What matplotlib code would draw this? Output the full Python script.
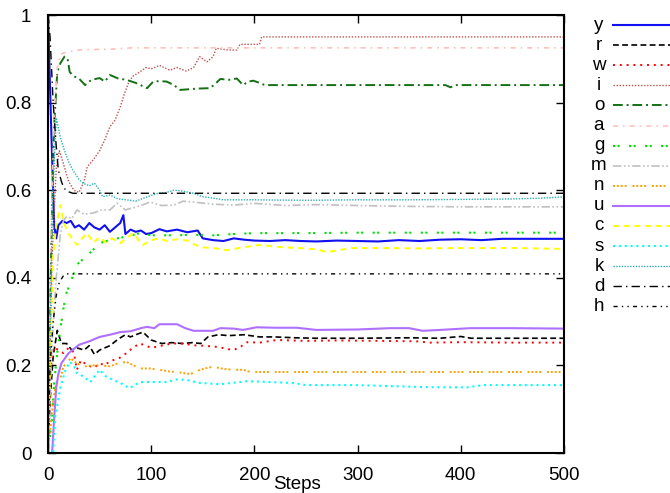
import matplotlib
matplotlib.use("Agg")
import matplotlib.pyplot as plt
from matplotlib.lines import Line2D

plt.rcParams['font.family'] = ['Liberation Sans', 'DejaVu Sans']

# series (step, value)
y_steps = [0, 3, 6, 8, 10, 14, 18, 22, 26, 30, 35, 40, 45, 50, 55, 60, 65, 70, 73, 75, 80, 85, 90, 95, 100,
           108, 115, 125, 135, 145, 150, 160, 170, 180, 190, 200, 215, 230, 245, 260, 280, 300, 320, 340,
           360, 380, 400, 420, 440, 460, 480, 500]
y_vals = [1.0, 0.75, 0.52, 0.49, 0.52, 0.53, 0.525, 0.53, 0.515, 0.52, 0.51, 0.525, 0.515, 0.51, 0.52, 0.505,
          0.515, 0.525, 0.543, 0.5, 0.51, 0.505, 0.508, 0.5, 0.502, 0.511, 0.506, 0.51, 0.504, 0.508, 0.49,
          0.486, 0.484, 0.49, 0.487, 0.485, 0.484, 0.486, 0.484, 0.483, 0.485, 0.484, 0.483, 0.486, 0.484,
          0.487, 0.488, 0.486, 0.489, 0.489, 0.489, 0.489]

r_steps = [0, 2, 5, 9, 13, 18, 23, 28, 35, 40, 45, 50, 55, 60, 68, 75, 80, 85, 92, 100, 110, 120, 130, 140,
           148, 155, 165, 175, 190, 205, 220, 240, 260, 300, 350, 380, 400, 410, 420, 450, 500]
r_vals = [0.0, 0.12, 0.22, 0.28, 0.25, 0.25, 0.235, 0.24, 0.235, 0.245, 0.225, 0.235, 0.24, 0.245, 0.26, 0.27,
          0.265, 0.27, 0.276, 0.258, 0.25, 0.252, 0.25, 0.252, 0.25, 0.265, 0.27, 0.268, 0.27, 0.265, 0.265,
          0.263, 0.262, 0.262, 0.263, 0.262, 0.266, 0.262, 0.262, 0.262, 0.262]

w_steps = [0, 3, 6, 10, 15, 20, 25, 28, 32, 38, 45, 50, 55, 60, 68, 76, 82, 89, 95, 100, 110, 120, 131, 140,
           150, 165, 179, 185, 193, 205, 222, 250, 280, 320, 357, 370, 400, 450, 500]
w_vals = [0.0, 0.2, 0.242, 0.235, 0.228, 0.24, 0.23, 0.19, 0.212, 0.2, 0.195, 0.205, 0.2, 0.21, 0.215, 0.228,
          0.24, 0.25, 0.245, 0.24, 0.245, 0.25, 0.25, 0.246, 0.245, 0.242, 0.235, 0.24, 0.253, 0.252, 0.258,
          0.256, 0.257, 0.256, 0.255, 0.252, 0.253, 0.252, 0.252]

i_steps = [0, 4, 8, 11, 15, 20, 25, 30, 35, 38, 44, 50, 55, 60, 65, 70, 74, 78, 82, 89, 95, 100, 108, 118,
           125, 134, 141, 147, 154, 160, 163, 175, 183, 186, 195, 205, 207, 500]
i_vals = [0.0, 0.45, 0.65, 0.69, 0.66, 0.62, 0.6, 0.595, 0.62, 0.653, 0.67, 0.69, 0.715, 0.745, 0.76, 0.79,
          0.82, 0.845, 0.86, 0.87, 0.88, 0.877, 0.885, 0.874, 0.88, 0.872, 0.88, 0.905, 0.893, 0.905, 0.924,
          0.92, 0.92, 0.933, 0.933, 0.933, 0.95, 0.95]

o_steps = [0, 3, 6, 9, 12, 16, 19, 21, 25, 30, 36, 42, 50, 55, 60, 68, 76, 85, 96, 102, 108, 115, 122, 128,
           134, 145, 157, 163, 167, 175, 183, 189, 194, 199, 205, 210, 385, 390, 395, 500]
o_vals = [0.0, 0.45, 0.75, 0.87, 0.89, 0.905, 0.9, 0.87, 0.86, 0.855, 0.84, 0.852, 0.856, 0.848, 0.863,
          0.855, 0.852, 0.845, 0.833, 0.848, 0.849, 0.848, 0.84, 0.829, 0.83, 0.832, 0.833, 0.845, 0.854,
          0.852, 0.855, 0.84, 0.848, 0.85, 0.845, 0.84, 0.84, 0.835, 0.84, 0.84]

a_steps = [0, 3, 6, 9, 12, 15, 18, 28, 40, 60, 81, 100, 150, 200, 300, 400, 500]
a_vals = [0.0, 0.5, 0.78, 0.88, 0.91, 0.913, 0.915, 0.92, 0.921, 0.922, 0.925, 0.925, 0.925, 0.925, 0.925,
          0.925, 0.925]

g_steps = [0, 4, 6, 9, 13, 17, 22, 28, 35, 42, 50, 58, 67, 78, 89, 100, 120, 140, 160, 180, 200, 250, 300,
           400, 500]
g_vals = [0.0, 0.08, 0.16, 0.23, 0.30, 0.36, 0.39, 0.43, 0.445, 0.46, 0.479, 0.485, 0.49, 0.495, 0.502,
          0.497, 0.497, 0.498, 0.497, 0.5, 0.502, 0.502, 0.503, 0.503, 0.503]

m_steps = [0, 4, 8, 12, 15, 18, 23, 28, 35, 44, 52, 60, 67, 75, 83, 90, 99, 110, 122, 131, 141, 160, 180,
           200, 230, 260, 300, 350, 400, 450, 500]
m_vals = [0.0, 0.25, 0.4, 0.5, 0.53, 0.54, 0.535, 0.555, 0.545, 0.548, 0.555, 0.555, 0.57, 0.555, 0.56,
          0.565, 0.573, 0.565, 0.566, 0.575, 0.573, 0.568, 0.566, 0.57, 0.565, 0.567, 0.565, 0.563, 0.562,
          0.562, 0.562]

n_steps = [0, 5, 8, 12, 15, 22, 28, 34, 42, 50, 60, 68, 76, 89, 99, 108, 118, 125, 138, 145, 152, 160, 170,
           180, 189, 196, 250, 300, 400, 500]
n_vals = [0.0, 0.12, 0.16, 0.17, 0.197, 0.216, 0.205, 0.197, 0.2, 0.2, 0.198, 0.205, 0.208, 0.193, 0.193,
          0.19, 0.186, 0.185, 0.18, 0.188, 0.193, 0.197, 0.192, 0.19, 0.19, 0.185, 0.185, 0.185, 0.185, 0.185]

u_steps = [0, 4, 6, 8, 10, 13, 20, 30, 40, 50, 60, 70, 80, 90, 96, 103, 108, 115, 125, 133, 141, 150, 160,
           167, 180, 189, 202, 220, 241, 260, 300, 331, 350, 363, 380, 409, 450, 500]
u_vals = [0.0, 0.0, 0.08, 0.15, 0.18, 0.205, 0.228, 0.247, 0.255, 0.265, 0.27, 0.276, 0.278, 0.285, 0.288,
          0.285, 0.294, 0.294, 0.294, 0.285, 0.279, 0.279, 0.279, 0.285, 0.284, 0.281, 0.287, 0.286, 0.286,
          0.281, 0.282, 0.285, 0.285, 0.279, 0.281, 0.285, 0.285, 0.284]

c_steps = [0, 2, 5, 8, 12, 15, 18, 23, 28, 33, 38, 44, 50, 56, 62, 70, 76, 83, 88, 92, 100, 108, 115, 125,
           135, 147, 160, 173, 190, 205, 225, 244, 260, 270, 280, 293, 320, 360, 400, 450, 500]
c_vals = [0.0, 0.2, 0.45, 0.52, 0.566, 0.53, 0.509, 0.49, 0.475, 0.49, 0.502, 0.48, 0.493, 0.48, 0.49,
          0.479, 0.49, 0.502, 0.485, 0.475, 0.486, 0.49, 0.484, 0.488, 0.485, 0.47, 0.468, 0.463, 0.47,
          0.475, 0.47, 0.468, 0.465, 0.459, 0.462, 0.468, 0.468, 0.467, 0.468, 0.468, 0.466]

s_steps = [0, 5, 7, 12, 17, 21, 25, 28, 34, 41, 50, 56, 63, 70, 79, 89, 100, 115, 125, 134, 147, 167, 193,
           215, 237, 250, 300, 357, 380, 406, 422, 450, 500]
s_vals = [0.0, 0.0, 0.082, 0.15, 0.19, 0.208, 0.2, 0.183, 0.175, 0.162, 0.19, 0.175, 0.167, 0.16, 0.148,
          0.162, 0.162, 0.162, 0.168, 0.167, 0.16, 0.157, 0.164, 0.162, 0.16, 0.155, 0.155, 0.151, 0.15,
          0.15, 0.155, 0.155, 0.155]

k_steps = [0, 4, 8, 12, 16, 20, 24, 30, 34, 40, 45, 50, 53, 60, 68, 76, 85, 96, 105, 115, 122, 130, 141,
           150, 160, 170, 200, 250, 300, 350, 400, 450, 480, 500]
k_vals = [0.0, 0.55, 0.765, 0.72, 0.69, 0.665, 0.646, 0.625, 0.616, 0.61, 0.616, 0.6, 0.585, 0.589, 0.58,
          0.578, 0.575, 0.585, 0.592, 0.595, 0.6, 0.598, 0.593, 0.585, 0.582, 0.578, 0.578, 0.577, 0.578,
          0.578, 0.579, 0.58, 0.582, 0.585]

d_steps = [0, 2, 5, 8, 10, 13, 15, 18, 24, 30, 500]
d_vals = [1.0, 0.95, 0.8, 0.7, 0.646, 0.62, 0.607, 0.598, 0.593, 0.593, 0.593]

h_steps = [0, 2, 5, 8, 11, 15, 18, 500]
h_vals = [0.0, 0.2, 0.3, 0.36, 0.39, 0.405, 0.409, 0.409]

labels = ['y', 'r', 'w', 'i', 'o', 'a', 'g', 'm', 'n', 'u', 'c', 's', 'k', 'd', 'h']
series = [(y_steps, y_vals), (r_steps, r_vals), (w_steps, w_vals), (i_steps, i_vals), (o_steps, o_vals),
          (a_steps, a_vals), (g_steps, g_vals), (m_steps, m_vals), (n_steps, n_vals), (u_steps, u_vals),
          (c_steps, c_vals), (s_steps, s_vals), (k_steps, k_vals), (d_steps, d_vals), (h_steps, h_vals)]

styles = [
    dict(color='#1010f0', lw=1.5, ls='-'),
    dict(color='black', lw=1.2, ls=(0, (3.5, 2))),
    dict(color='#ff0000', lw=1.4, ls=(0, (1, 2.5))),
    dict(color='#c05050', lw=1.0, ls=(0, (1, 1.2))),
    dict(color='#137013', lw=1.4, ls=(0, (5, 2, 1, 2))),
    dict(color='#ffc0c0', lw=1.2, ls=(0, (3, 3, 1, 3))),
    dict(color='#00e000', lw=1.5, ls=(0, (1, 1.2, 1, 4.5))),
    dict(color='#c0c0c0', lw=1.2, ls=(0, (5, 1.5, 1, 1.5, 1, 1.5))),
    dict(color='#ffa000', lw=1.4, ls=(0, (1, 1, 1, 1, 1, 1, 1, 3))),
    dict(color='#b070ff', lw=1.5, ls='-'),
    dict(color='#ffff00', lw=1.4, ls=(0, (3, 2.5))),
    dict(color='#00ffff', lw=1.5, ls=(0, (1, 1.8))),
    dict(color='#30b0b0', lw=1.0, ls=(0, (1, 1))),
    dict(color='black', lw=1.0, ls=(0, (6, 3, 1, 3))),
    dict(color='black', lw=1.0, ls=(0, (3, 3, 1, 3, 1, 3))),
]

W, H = 670, 493
fig = plt.figure(figsize=(W / 100, H / 100), dpi=100)
ax = fig.add_axes([48 / W, 40 / H, 516 / W, 438 / H])

for (xs, ys), st in zip(series, styles):
    ax.plot(xs, ys, **st)

ax.set_xlim(0, 500)
ax.set_ylim(0, 1)
ax.set_xticks([0, 100, 200, 300, 400, 500])
ax.set_yticks([0, 0.2, 0.4, 0.6, 0.8, 1])
ax.set_yticklabels(['0', '0.2', '0.4', '0.6', '0.8', '1'])
ax.tick_params(direction='in', length=6, width=1, top=True, right=True, labelsize=13.5)
ax.tick_params(axis='y', pad=12)
ax.tick_params(axis='x', pad=10)
for sp in ax.spines.values():
    sp.set_linewidth(1.5)
ax.set_xlabel('Steps', fontsize=13.5)
ax.xaxis.set_label_coords(249 / 516, -23 / 438)

# gnuplot-like key on the right: label then line sample
for n, (lab, st) in enumerate(zip(labels, styles)):
    yp = 1 - (25 + 20.1 * n) / H
    fig.text(599 / W, yp, lab, ha='center', va='center', fontsize=13.5)
    fig.add_artist(Line2D([613 / W, 1.0], [yp, yp], transform=fig.transFigure, **st))

fig.savefig('out.png', dpi=100)
